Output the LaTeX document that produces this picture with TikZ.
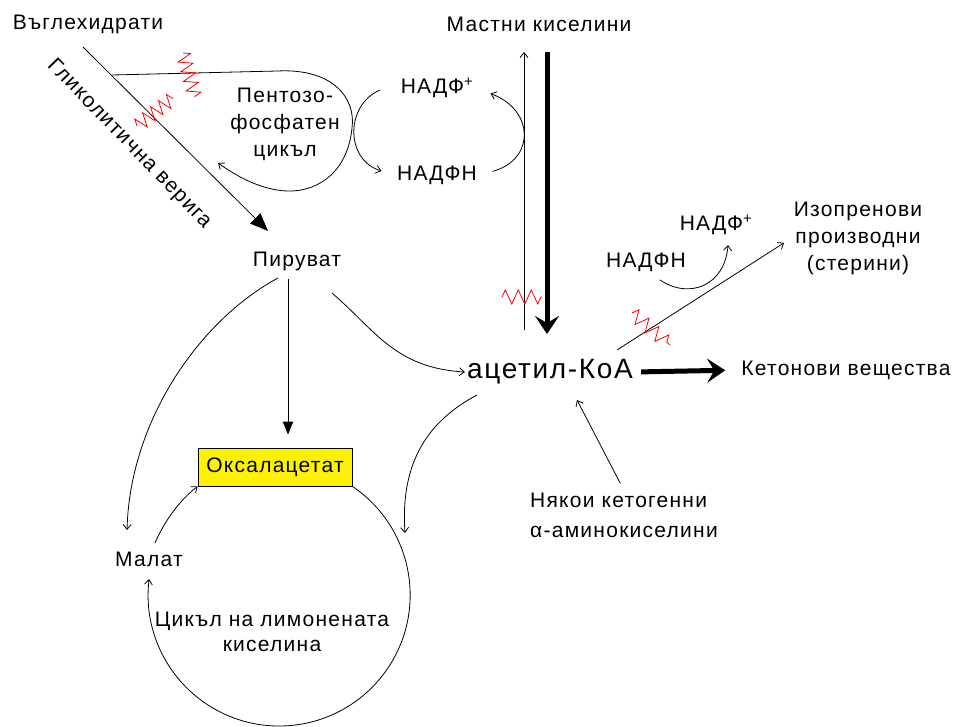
\documentclass[tikz,border=0pt]{standalone}
\usepackage{fontspec}
\setmainfont{Liberation Sans}[LetterSpace=6]
\usetikzlibrary{arrows.meta, decorations.pathmorphing}

\begin{document}
\begin{tikzpicture}[x=1pt, y=-1pt,
        txt/.style={font=\fontsize{21}{27}\selectfont, inner sep=2pt, align=center},
        flow/.style={line width=0.8pt, -{Straight Barb[length=5pt,width=8pt]}},
        filltip/.style={line width=0.8pt, -{Triangle[length=#1,width=0.8*#1]}},
        fat/.style={line width=5pt, -{Stealth[length=18pt,width=24pt,inset=7pt]}},
        zz/.style={red, line width=0.8pt, decorate, decoration={zigzag, segment length=#1, amplitude=7pt}}
    ]

        \useasboundingbox (0,0) rectangle (961,726);

        \node[txt] (carb) at (88,24) {Въглехидрати};
        \node[txt] (fatty) at (539,24) {Мастни киселини};
        \node[txt, rotate=-46, inner sep=0pt] (glyc) at (129,144) {Гликолитична верига};
        \node[txt] (ppc) at (285,124) {Пентозо-\\фосфатен\\цикъл};
        \node[txt] (nadpa) at (437,88) {НАДФ\textsuperscript{+}};
        \node[txt] (nadpha) at (437,175) {НАДФН};
        \node[txt] (pyr) at (297,261) {Пируват};
        \node[txt, draw, fill=yellow, line width=0.8pt, minimum width=154pt, minimum height=38pt] (oaa) at (275,467) {Оксалацетат};
        \node[txt] (mal) at (149,559) {Малат};
        \node[txt, align=center] (tca) at (272,632) {Цикъл на лимонената\\[-2pt]киселина};
        \node[txt, font=\fontsize{28}{34}\selectfont] (acoa) at (550,372) {ацетил-КоА};
        \node[txt] (keto) at (846,370) {Кетонови вещества};
        \node[txt] (iso) at (858,238) {Изопренови\\производни\\(стерини)};
        \node[txt] (nadphb) at (646,262) {НАДФН};
        \node[txt] (nadpb) at (716,225) {НАДФ\textsuperscript{+}};
        \node[txt, align=left] (amino) at (624,515) {Някои кетогенни\\[3pt]α-аминокиселини};

        \coordinate (g0) at (83,47);
        \coordinate (g1) at (268,231);
        \draw[filltip=18pt] (g0) -- (g1);

        \coordinate (p0) at (112,75);
        \coordinate (p1) at (218,163);
        \draw[flow] (p0) -- (277,71) .. controls (335,68) and (356,100) .. (352,128)
            .. controls (348,170) and (320,192) .. (287,191)
            .. controls (260,190) and (235,175) .. (p1);

        \draw[flow, shorten >=14pt] (380,90) .. controls (345,105) and (345,160) .. (nadpha.west);
        \draw[flow, shorten <=14pt, shorten >=16pt] (nadpha.east) .. controls (535,160) and (535,110) .. (nadpa.east);

        \coordinate (fa-lo) at (524,330);
        \coordinate (fa-hi) at (524,52);
        \draw[flow] (fa-lo) -- (fa-hi);
        \coordinate (fb-hi) at (547,52);
        \coordinate (fb-lo) at (547,334);
        \draw[fat] (fb-hi) -- (fb-lo);

        \draw[filltip=13pt, shorten <=6pt, shorten >=13pt] ([xshift=-9pt]pyr.south) -- ([xshift=-9pt]pyr.south |- oaa.north);
        \draw[flow] (278,278) .. controls (200,320) and (130,420) .. (127,530);
        \draw[flow] (332,293) .. controls (375,330) and (395,368) .. (acoa.west);
        \draw[flow] (155,543) .. controls (165,520) and (180,500) .. (oaa.south west);
        \draw[flow] (oaa.south east) arc[start angle=-56, end angle=187, radius=131];
        \draw[flow] (477,395) .. controls (430,420) and (400,460) .. (405,533);

        \draw[fat, shorten <=6pt, shorten >=14pt] (acoa.east) -- (keto.west);
        \coordinate (i0) at (617,350);
        \draw[flow, shorten >=9pt] (i0) -- (iso.west);
        \draw[flow] (660,280) .. controls (690,300) and (725,285) .. (728,245);
        \coordinate (a1) at (577,400);
        \draw[flow, shorten <=8pt] (amino.north) -- (a1);

        \draw[zz=10pt] (183,53) -- (195,97);
        \draw[zz=10pt] (137,126) -- (173,98);
        \draw[zz=13pt] (502,297) -- (542,297);
        \draw[zz=13pt] (632,313) -- (670,345);

    \end{tikzpicture}
\end{document}
